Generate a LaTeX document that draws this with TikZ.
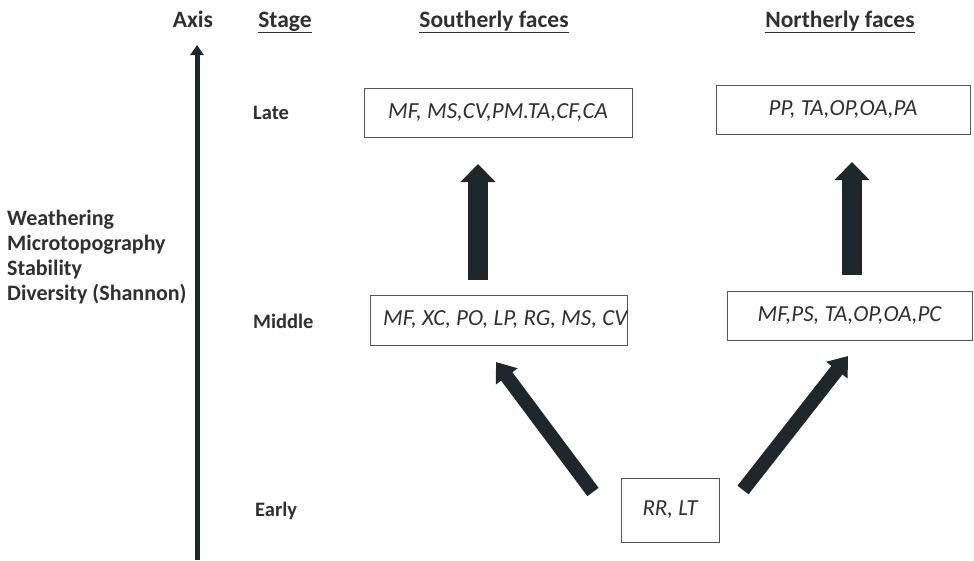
\documentclass[tikz,border=0pt]{standalone}
\usepackage{fontspec}
\setmainfont{Carlito}
\usetikzlibrary{arrows.meta}
\definecolor{arrcol}{HTML}{1E272C}
\definecolor{boxcol}{HTML}{555555}
\definecolor{txtcol}{HTML}{303030}
\tikzset{
  hdr/.style={font=\fontsize{23.5}{26}\selectfont\bfseries, text=txtcol, inner sep=0pt, anchor=base},
  stagelbl/.style={font=\fontsize{20.5}{24}\selectfont\bfseries, text=txtcol, inner sep=0pt},
  boxnode/.style={draw=boxcol, line width=1pt, rectangle, inner sep=0pt},
  boxtxt/.style={font=\fontsize{23}{26}\selectfont\itshape, text=txtcol, inner sep=0pt},
  fatarrow/.style={draw=arrcol, line width=20pt, -{Triangle[width=34pt,length=18pt]}, shorten >=0pt},
  diagarrow/.style={draw=arrcol, line width=14pt, -{Triangle[width=26pt,length=18pt]}},
  axisarrow/.style={draw=arrcol, line width=5pt, -{Triangle[width=13pt,length=10pt]}},
}
\begin{document}
\begin{tikzpicture}[x=1pt,y=-1pt]
\useasboundingbox (0,0) rectangle (974,560);
\fill[white] (0,0) rectangle (974,560);

% headers
\node[hdr] (axis) at (193,27) {Axis};
\node[hdr] (stage) at (285,27) {\underline{Stage}};
\node[hdr] (south) at (494,27) {\underline{Southerly faces}};
\node[hdr] (north) at (840,27) {\underline{Northerly faces}};

% axis arrow
\coordinate (axbot) at (197,560);
\coordinate (axtop) at (197,45);
\draw[axisarrow] (axbot) -- (axtop);

% left text
\node[font=\fontsize{22}{25}\selectfont\bfseries, text=txtcol, align=left, anchor=base west, inner sep=0pt] (props) at (7,300)
  {Weathering\\Microtopography\\Stability\\Diversity (Shannon)};

% stage labels
\node[stagelbl, anchor=west] (late) at (253,113) {Late};
\node[stagelbl, anchor=west] (middle) at (253,321) {Middle};
\node[stagelbl, anchor=west] (early) at (255,511) {Early};

% boxes
\node[boxnode, minimum width=268pt, minimum height=49pt] (ls) at (498,112.5) {};
\node[boxtxt] at (ls.center) {MF, MS,CV,PM.TA,CF,CA};
\node[boxnode, minimum width=254pt, minimum height=49pt] (ln) at (843,109.5) {};
\node[boxtxt] at (ln.center) {PP, TA,OP,OA,PA};
\node[boxnode, minimum width=257pt, minimum height=50pt] (msb) at (498.5,320) {};
\node[boxtxt, anchor=west] (mst) at (383,320) {MF, XC, PO, LP, RG, MS, CV};
\node[boxnode, minimum width=245pt, minimum height=49pt] (mn) at (849.5,315.5) {};
\node[boxtxt] at (mn.center) {MF,PS, TA,OP,OA,PC};
\node[boxnode, minimum width=98pt, minimum height=64pt] (er) at (670,510) {};
\node[boxtxt] at (er.center) {RR, LT};

% arrows
\coordinate (s1) at (478,280);
\coordinate (s2) at (478,164);
\draw[fatarrow] (s1) -- (s2);
\coordinate (n1) at (852,275);
\coordinate (n2) at (852,162);
\draw[fatarrow] (n1) -- (n2);
\coordinate (d1) at (593,492);
\coordinate (d2) at (496,362);
\draw[diagarrow] (d1) -- (d2);
\coordinate (e1) at (743,490);
\coordinate (e2) at (848,356);
\draw[diagarrow] (e1) -- (e2);
\end{tikzpicture}
\end{document}
